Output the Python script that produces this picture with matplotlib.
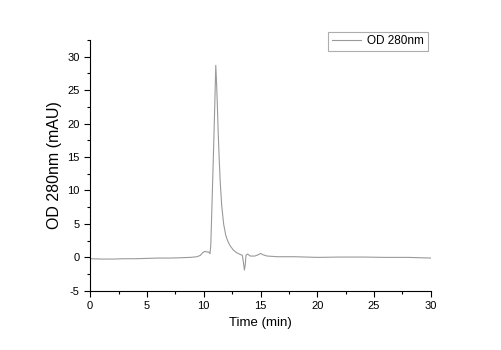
import matplotlib
matplotlib.use("Agg")
import matplotlib.pyplot as plt
from matplotlib.ticker import MultipleLocator

plt.rcParams['font.family'] = ['Liberation Sans', 'DejaVu Sans']
plt.rcParams['axes.unicode_minus'] = False

# chromatogram (time in min, OD in mAU)
time_min = [0.0, 1.0, 2.0, 3.0, 4.0, 5.0, 6.0, 7.0, 8.0, 8.8, 9.4, 9.7, 9.9,
            10.1, 10.3, 10.45, 10.55, 10.62, 10.72, 10.85, 10.97, 11.06,
            11.13, 11.2, 11.27, 11.35, 11.45, 11.58, 11.75, 11.94, 12.1,
            12.3, 12.6, 12.9, 13.2, 13.4, 13.5, 13.58, 13.65, 13.72, 13.85,
            14.1, 14.5, 14.8, 15.0, 15.2, 15.6, 16.5, 18.0, 20.0, 22.0, 24.0,
            26.0, 28.0, 29.0, 30.0]
od280 = [-0.2, -0.25, -0.25, -0.2, -0.2, -0.15, -0.1, -0.1, -0.05, 0.0, 0.1,
         0.3, 0.7, 0.9, 0.8, 0.8, 0.55, 1.8, 7.5, 15.2, 22.7, 28.7,
         26.0, 22.7, 18.8, 15.2, 11.3, 7.8, 5.0, 3.3, 2.5,
         1.8, 1.1, 0.7, 0.45, 0.3, -0.8, -1.9, -1.2, 0.3, 0.5,
         0.2, 0.2, 0.4, 0.6, 0.4, 0.2, 0.1, 0.1, 0.0, 0.05, 0.05,
         0.0, 0.0, -0.05, -0.1]

fig = plt.figure(figsize=(5.01, 3.5), dpi=100)
ax = fig.add_axes([0.18, 0.169, 0.68, 0.717])
ax.plot(time_min, od280, color='#9a9a9a', lw=0.8, label='OD 280nm')

ax.set_xlim(0, 30)
ax.set_ylim(-5, 32.5)
ax.xaxis.set_major_locator(MultipleLocator(5))
ax.xaxis.set_minor_locator(MultipleLocator(2.5))
ax.yaxis.set_major_locator(MultipleLocator(5))
ax.yaxis.set_minor_locator(MultipleLocator(2.5))
ax.spines['top'].set_visible(False)
ax.spines['right'].set_visible(False)
ax.tick_params(which='major', direction='out', length=4, width=0.8, labelsize=8)
ax.tick_params(which='minor', direction='out', length=2, width=0.8)
ax.set_xlabel('Time (min)', fontsize=9.5)
ax.set_ylabel('OD 280nm (mAU)', fontsize=11.5)

leg = ax.legend(loc='upper right', bbox_to_anchor=(0.991, 1.032), fontsize=8.5,
                frameon=True, fancybox=False, handlelength=2.5,
                handletextpad=0.5, borderpad=0.3, borderaxespad=0.0)
leg.get_frame().set_edgecolor('#999999')
leg.get_frame().set_linewidth(0.8)

fig.savefig('out.png', dpi=100)
